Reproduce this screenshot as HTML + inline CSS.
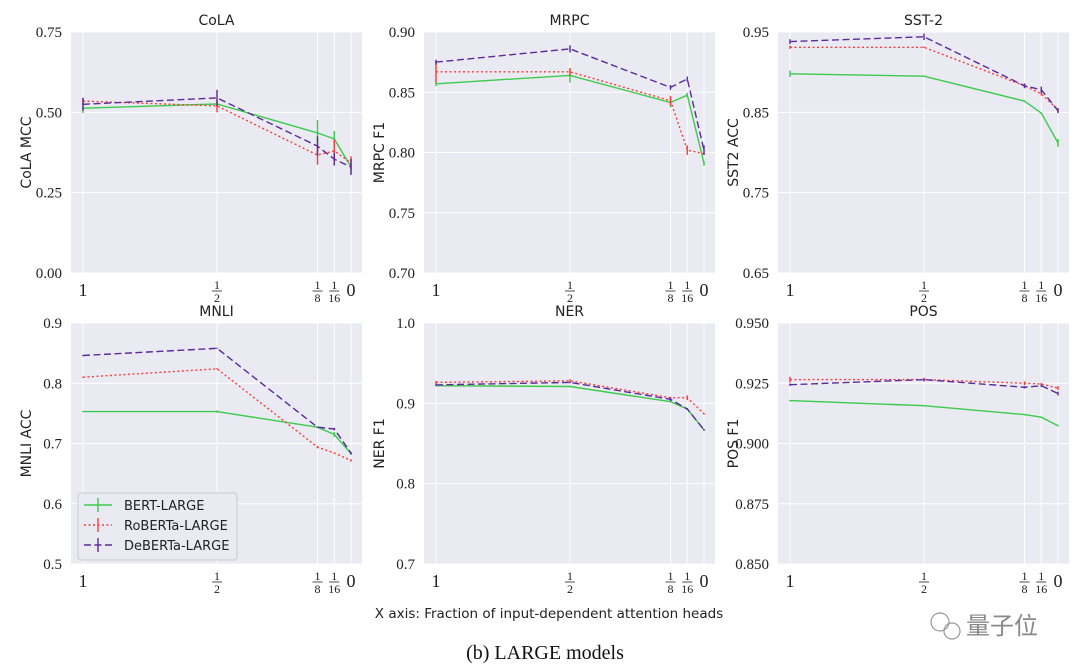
<!DOCTYPE html>
<html><head><meta charset="utf-8">
<style>
html,body{margin:0;padding:0;background:#fff;}
svg{display:block;}
.tk{font-family:"Liberation Serif",serif;fill:#222;}
.sn{font-family:"DejaVu Sans","Liberation Sans",sans-serif;fill:#222;}
</style></head>
<body>
<svg id="chart" width="1080" height="671" viewBox="0 0 1080 671" xmlns="http://www.w3.org/2000/svg">
<text class="sn" x="549" y="618" font-size="13.5" text-anchor="middle">X axis: Fraction of input-dependent attention heads</text>
<text x="545" y="659" font-size="20" text-anchor="middle" font-family="Liberation Serif, serif" fill="#111">(b) LARGE models</text>
<g>
<circle cx="940" cy="622" r="9" fill="none" stroke="#999" stroke-width="1.2"/>
<circle cx="952" cy="631" r="8" fill="none" stroke="#999" stroke-width="1.2"/>
<text x="966" y="634" font-size="24" fill="#888" font-family="Liberation Sans, Noto Sans CJK SC, sans-serif">量子位</text>
</g>
</svg>
<script>
// shared x categories (fraction of input-dependent heads)
const xFractions = [1, 0.5, 0.125, 0.0625, 0];
const xTickMain = ["1", "", "", "", "0"];
const xTickNum = ["", "1", "1", "1", ""];
const xTickDen = ["", "2", "8", "16", ""];
const seriesNames = ["BERT-LARGE", "RoBERTa-LARGE", "DeBERTa-LARGE"];

const panelTitles = ["CoLA", "MRPC", "SST-2", "MNLI", "NER", "POS"];
const yLabels = ["CoLA MCC", "MRPC F1", "SST2 ACC", "MNLI ACC", "NER F1", "POS F1"];
const yTicksCoLA = ["0.00", "0.25", "0.50", "0.75"];
const yTicksMRPC = ["0.70", "0.75", "0.80", "0.85", "0.90"];
const yTicksSST = ["0.65", "0.75", "0.85", "0.95"];
const yTicksMNLI = ["0.5", "0.6", "0.7", "0.8", "0.9"];
const yTicksNER = ["0.7", "0.8", "0.9", "1.0"];
const yTicksPOS = ["0.850", "0.875", "0.900", "0.925", "0.950"];

const colaBert = [0.513, 0.526, 0.436, 0.417, 0.33];
const colaRoberta = [0.535, 0.52, 0.367, 0.38, 0.343];
const colaDeberta = [0.525, 0.545, 0.395, 0.354, 0.33];
const colaErr = [[0.015, 0.01, 0.04, 0.025, 0.02], [0.01, 0.02, 0.03, 0.035, 0.02], [0.02, 0.025, 0.03, 0.02, 0.025]];

const mrpcBert = [0.857, 0.864, 0.8415, 0.8476, 0.791];
const mrpcRoberta = [0.867, 0.867, 0.843, 0.802, 0.799];
const mrpcDeberta = [0.875, 0.886, 0.854, 0.861, 0.802];
const mrpcErr = [[0.002, 0.006, 0.004, 0.002, 0.002], [0.009, 0.003, 0.004, 0.004, 0.001], [0.002, 0.003, 0.002, 0.002, 0.004]];

const sstBert = [0.898, 0.895, 0.864, 0.849, 0.812];
const sstRoberta = [0.931, 0.931, 0.883, 0.873, 0.853];
const sstDeberta = [0.938, 0.944, 0.883, 0.878, 0.852];
const sstErr = [[0.004, 0.001, 0.001, 0.001, 0.005], [0.002, 0.001, 0.002, 0.002, 0.002], [0.003, 0.004, 0.003, 0.004, 0.003]];

const mnliBert = [0.753, 0.753, 0.727, 0.715, 0.683];
const mnliRoberta = [0.81, 0.824, 0.694, 0.684, 0.672];
const mnliDeberta = [0.846, 0.858, 0.727, 0.724, 0.684];
const mnliErr = [[0.001, 0.002, 0.001, 0.004, 0.002], [0.001, 0.001, 0.002, 0.001, 0.002], [0.001, 0.001, 0.001, 0.002, 0.002]];

const nerBert = [0.922, 0.921, 0.902, 0.893, 0.867];
const nerRoberta = [0.926, 0.928, 0.907, 0.907, 0.887];
const nerDeberta = [0.923, 0.926, 0.905, 0.893, 0.867];
const nerErr = [[0.001, 0.001, 0.001, 0.001, 0.001], [0.002, 0.002, 0.001, 0.003, 0.001], [0.001, 0.001, 0.002, 0.001, 0.001]];

const posBert = [0.9178, 0.9157, 0.912, 0.9109, 0.9074];
const posRoberta = [0.9265, 0.9265, 0.925, 0.9247, 0.923];
const posDeberta = [0.9244, 0.9265, 0.9233, 0.924, 0.9207];
const posErr = [[0.0003, 0.0003, 0.0003, 0.0003, 0.0003], [0.0012, 0.0008, 0.0008, 0.0005, 0.0008], [0.0005, 0.0005, 0.0005, 0.0005, 0.0008]];

const panels = [
  {ticks: yTicksCoLA, s: [colaBert, colaRoberta, colaDeberta], e: colaErr},
  {ticks: yTicksMRPC, s: [mrpcBert, mrpcRoberta, mrpcDeberta], e: mrpcErr},
  {ticks: yTicksSST, s: [sstBert, sstRoberta, sstDeberta], e: sstErr},
  {ticks: yTicksMNLI, s: [mnliBert, mnliRoberta, mnliDeberta], e: mnliErr},
  {ticks: yTicksNER, s: [nerBert, nerRoberta, nerDeberta], e: nerErr},
  {ticks: yTicksPOS, s: [posBert, posRoberta, posDeberta], e: posErr}
];
const colors = ["#3ccb4c", "#ff3b3b", "#5b2a9c"];
const dashes = ["", "2,2.5", "7,3.5"];
const lefts = [71, 424, 778];
const tops = [32, 323];
const W = 291, H = 241;

const NS = "http://www.w3.org/2000/svg";
const svg = document.getElementById("chart");
function mk(tag, attrs, parent) {
  const el = document.createElementNS(NS, tag);
  for (const k in attrs) el.setAttribute(k, attrs[k]);
  (parent || svg).appendChild(el);
  return el;
}

panels.forEach((p, pi) => {
  const L = lefts[pi % 3], T = tops[Math.floor(pi / 3)];
  const yMin = parseFloat(p.ticks[0]), yMax = parseFloat(p.ticks[p.ticks.length - 1]);
  const xs = f => L + 12 + (1 - f) * (W - 23);
  const ys = v => T + H - (v - yMin) / (yMax - yMin) * H;
  const g = mk("g", {});
  
  
  mk("rect", {x: L, y: T, width: W, height: H, fill: "#eaeaf2"}, g);
  p.ticks.forEach(t => {
    const y = ys(parseFloat(t));
    mk("line", {x1: L, x2: L + W, y1: y, y2: y, stroke: "#fff", "stroke-width": 1}, g);
    const tx = mk("text", {x: L - 9, y: y + 5, "font-size": 15, "text-anchor": "end", class: "tk"}, g);
    tx.textContent = t;
    
    
  });
  xFractions.forEach((f, i) => {
    const x = xs(f);
    mk("line", {x1: x, x2: x, y1: T, y2: T + H, stroke: "#fff", "stroke-width": 1}, g);
    if (xTickMain[i]) {
      const t = mk("text", {x: x, y: T + H + 23, "font-size": 18, "text-anchor": "middle", class: "tk"}, g);
      t.textContent = xTickMain[i];
      
      
    } else {
      const t1 = mk("text", {x: x, y: T + H + 16, "font-size": 12, "text-anchor": "middle", class: "tk"}, g);
      t1.textContent = xTickNum[i];
      
      
      mk("line", {x1: x - 5, x2: x + 5, y1: T + H + 18, y2: T + H + 18, stroke: "#222", "stroke-width": 0.8}, g);
      const t2 = mk("text", {x: x, y: T + H + 29, "font-size": 12, "text-anchor": "middle", class: "tk"}, g);
      t2.textContent = xTickDen[i];
      
      
    }
  });
  const title = mk("text", {x: L + W / 2, y: T - 7, "font-size": 14, "text-anchor": "middle", class: "sn"}, g);
  title.textContent = panelTitles[pi];
  
  
  const yl = mk("text", {x: 0, y: 0, "font-size": 14, "text-anchor": "middle", class: "sn",
    transform: "translate(" + (L - 40) + "," + (T + H / 2) + ") rotate(-90)"}, g);
  yl.textContent = yLabels[pi];
  
  
  p.s.forEach((vals, si) => {
    const pts = vals.map((v, i) => xs(xFractions[i]).toFixed(1) + "," + ys(v).toFixed(1)).join(" ");
    const line = mk("polyline", {points: pts, fill: "none", stroke: colors[si], "stroke-width": 1.4, "stroke-dasharray": dashes[si]}, g);
    
    
    vals.forEach((v, i) => {
      const x = xs(xFractions[i]), er = p.e[si][i];
      const eb = mk("line", {x1: x, x2: x, y1: ys(v - er), y2: ys(v + er) - 0.01, stroke: colors[si], "stroke-width": 1.4}, g);
      
      
    });
  });
});

const lg = mk("g", {});


mk("rect", {x: 78, y: 493, width: 159, height: 67, rx: 3, fill: "#eaeaf2", stroke: "#ccc", "stroke-width": 1}, lg);
seriesNames.forEach((n, si) => {
  const y = 505 + si * 20;
  mk("line", {x1: 84, x2: 112, y1: y, y2: y, stroke: colors[si], "stroke-width": 1.4, "stroke-dasharray": dashes[si]}, lg);
  mk("line", {x1: 98, x2: 98, y1: y - 7, y2: y + 7, stroke: colors[si], "stroke-width": 1.4}, lg);
  const t = mk("text", {x: 124, y: y + 5, "font-size": 13, class: "sn"}, lg);
  t.textContent = n;
  
  
});
</script>
</body></html>
